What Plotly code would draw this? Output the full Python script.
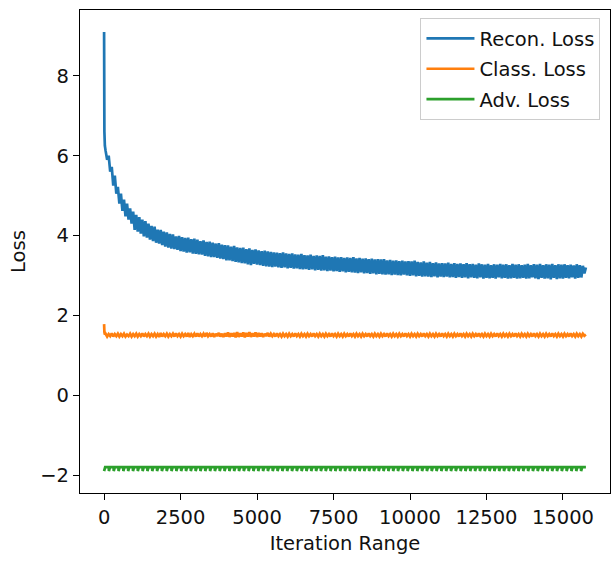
import plotly.graph_objects as go

# ---------------- data ----------------
recon_iter = [0, 10, 25] + list(range(50, 15800, 50))
recon_loss = [9.10, 6.60, 6.25,
    6.12, 5.90, 6.00, 5.60, 5.72, 5.25, 5.50, 5.05, 5.22, 4.80,
    5.05, 4.62, 4.90, 4.48, 4.80, 4.40, 4.68, 4.30, 4.60, 4.14,
    4.52, 4.10, 4.46, 4.05, 4.40, 3.98, 4.36, 3.95, 4.30, 3.90,
    4.24, 3.86, 4.22, 3.82, 4.15, 3.80, 4.14, 3.76, 4.10, 3.72,
    4.08, 3.70, 4.04, 3.67, 4.03, 3.66, 3.98, 3.64, 3.99, 3.61,
    3.96, 3.60, 3.94, 3.57, 3.95, 3.58, 3.91, 3.55, 3.92, 3.54,
    3.90, 3.53, 3.86, 3.52, 3.88, 3.49, 3.84, 3.48, 3.85, 3.46,
    3.82, 3.46, 3.80, 3.44, 3.81, 3.42, 3.77, 3.41, 3.76, 3.38,
    3.75, 3.38, 3.72, 3.36, 3.74, 3.34, 3.70, 3.33, 3.69, 3.31,
    3.70, 3.30, 3.66, 3.28, 3.68, 3.26, 3.64, 3.29, 3.65, 3.27,
    3.63, 3.26, 3.61, 3.24, 3.62, 3.23, 3.60, 3.22, 3.59, 3.21,
    3.58, 3.22, 3.57, 3.20, 3.56, 3.19, 3.58, 3.20, 3.55, 3.18,
    3.54, 3.19, 3.55, 3.17, 3.53, 3.18, 3.52, 3.16, 3.54, 3.15,
    3.51, 3.16, 3.50, 3.14, 3.52, 3.15, 3.49, 3.13, 3.50, 3.14,
    3.49, 3.12, 3.51, 3.13, 3.47, 3.11, 3.48, 3.12, 3.46, 3.10,
    3.47, 3.11, 3.45, 3.09, 3.46, 3.10, 3.44, 3.08, 3.45, 3.09,
    3.44, 3.08, 3.46, 3.07, 3.43, 3.06, 3.44, 3.08, 3.42, 3.05,
    3.43, 3.06, 3.41, 3.04, 3.42, 3.05, 3.40, 3.03, 3.41, 3.04,
    3.40, 3.03, 3.41, 3.02, 3.38, 3.03, 3.39, 3.01, 3.37, 3.02,
    3.38, 3.01, 3.36, 3.00, 3.37, 3.02, 3.35, 3.00, 3.36, 2.99,
    3.35, 3.00, 3.37, 2.98, 3.34, 2.99, 3.33, 2.97, 3.35, 2.98,
    3.32, 2.97, 3.34, 2.96, 3.31, 2.98, 3.33, 2.95, 3.30, 2.97,
    3.31, 2.96, 3.30, 2.97, 3.32, 2.95, 3.29, 2.96, 3.31, 2.94,
    3.29, 2.96, 3.30, 2.94, 3.28, 2.95, 3.31, 2.93, 3.28, 2.95,
    3.29, 2.94, 3.27, 2.93, 3.30, 2.95, 3.28, 2.92, 3.27, 2.94,
    3.29, 2.93, 3.26, 2.94, 3.28, 2.92, 3.27, 2.95, 3.29, 2.93,
    3.27, 2.94, 3.28, 2.92, 3.26, 2.93, 3.29, 2.94, 3.27, 2.92,
    3.28, 2.93, 3.26, 2.94, 3.27, 2.92, 3.29, 2.93, 3.26, 2.95,
    3.28, 2.93, 3.27, 2.91, 3.29, 2.94, 3.26, 2.92, 3.28, 2.93,
    3.27, 2.90, 3.29, 2.94, 3.26, 2.91, 3.28, 2.93, 3.27, 2.92,
    3.28, 2.94, 3.26, 2.93, 3.27, 2.95, 3.25, 2.92, 3.28, 2.94,
    3.26, 2.95, 3.24, 3.05, 3.20]

class_iter = [0, 10, 25] + list(range(50, 15800, 50))
class_loss = [1.78, 1.58, 1.52,
    1.54, 1.47, 1.53, 1.48, 1.55, 1.47, 1.53, 1.48, 1.54, 1.47,
    1.53, 1.48, 1.54, 1.47, 1.52, 1.48, 1.54, 1.47, 1.53, 1.48,
    1.54, 1.47, 1.53, 1.48, 1.55, 1.47, 1.53, 1.48, 1.54, 1.47,
    1.53, 1.48, 1.54, 1.47, 1.53, 1.46, 1.56, 1.47, 1.53, 1.48,
    1.54, 1.47, 1.53, 1.48, 1.54, 1.47, 1.55, 1.48, 1.53, 1.47,
    1.54, 1.48, 1.53, 1.47, 1.56, 1.46, 1.53, 1.48, 1.54, 1.47,
    1.55, 1.47, 1.53, 1.48, 1.54, 1.47, 1.56, 1.48, 1.53, 1.47,
    1.55, 1.46, 1.54, 1.48, 1.56, 1.47, 1.54, 1.46, 1.55, 1.47,
    1.57, 1.46, 1.55, 1.47, 1.56, 1.45, 1.58, 1.46, 1.55, 1.47,
    1.57, 1.45, 1.56, 1.47, 1.58, 1.46, 1.55, 1.47, 1.57, 1.46,
    1.56, 1.47, 1.55, 1.46, 1.54, 1.48, 1.56, 1.47, 1.54, 1.48,
    1.53, 1.47, 1.55, 1.48, 1.53, 1.47, 1.54, 1.48, 1.53, 1.47,
    1.54, 1.48, 1.53, 1.47, 1.55, 1.48, 1.53, 1.47, 1.54, 1.48,
    1.53, 1.47, 1.54, 1.48, 1.53, 1.47, 1.55, 1.48, 1.53, 1.47,
    1.54, 1.48, 1.53, 1.47, 1.54, 1.48, 1.53, 1.47, 1.55, 1.48,
    1.53, 1.47, 1.54, 1.48, 1.53, 1.47, 1.54, 1.48, 1.53, 1.47,
    1.55, 1.48, 1.53, 1.47, 1.54, 1.48, 1.53, 1.47, 1.54, 1.48,
    1.53, 1.47, 1.55, 1.48, 1.53, 1.47, 1.54, 1.48, 1.53, 1.47,
    1.54, 1.48, 1.53, 1.47, 1.55, 1.48, 1.53, 1.47, 1.54, 1.48,
    1.53, 1.47, 1.54, 1.48, 1.53, 1.47, 1.55, 1.48, 1.53, 1.47,
    1.54, 1.48, 1.53, 1.47, 1.54, 1.48, 1.53, 1.47, 1.55, 1.48,
    1.53, 1.47, 1.54, 1.48, 1.53, 1.47, 1.54, 1.48, 1.53, 1.47,
    1.55, 1.48, 1.53, 1.47, 1.54, 1.48, 1.53, 1.47, 1.54, 1.48,
    1.53, 1.47, 1.55, 1.48, 1.53, 1.47, 1.54, 1.48, 1.53, 1.47,
    1.54, 1.48, 1.53, 1.47, 1.55, 1.48, 1.53, 1.47, 1.54, 1.48,
    1.53, 1.47, 1.54, 1.48, 1.53, 1.47, 1.55, 1.48, 1.53, 1.47,
    1.54, 1.48, 1.53, 1.47, 1.54, 1.48, 1.53, 1.47, 1.55, 1.48,
    1.53, 1.47, 1.54, 1.48, 1.53, 1.47, 1.54, 1.48, 1.53, 1.47,
    1.55, 1.48, 1.53, 1.47, 1.54, 1.48, 1.53, 1.47, 1.54, 1.48,
    1.53, 1.47, 1.55, 1.48, 1.53, 1.47, 1.54, 1.48, 1.53, 1.47,
    1.54, 1.48, 1.53, 1.47, 1.55, 1.48, 1.53, 1.47, 1.54, 1.48,
    1.53, 1.47, 1.54, 1.49, 1.52]

# Adversarial loss: flat level with a short dip at the start of each epoch
adv_epochs = 100
adv_iters_per_epoch = 157.5
adv_level = -1.80
adv_dip = -1.90

adv_iter, adv_loss = [], []
for e in range(adv_epochs):
    s = e * adv_iters_per_epoch
    adv_iter += [s, s + 35, s + adv_iters_per_epoch - 5]
    adv_loss += [adv_dip, adv_level, adv_level]
adv_iter.append(adv_epochs * adv_iters_per_epoch)
adv_loss.append(adv_level)

series_names = ["Recon. Loss", "Class. Loss", "Adv. Loss"]
x_ticks = [0, 2500, 5000, 7500, 10000, 12500, 15000]
y_ticks = [-2, 0, 2, 4, 6, 8]

# ---------------- figure ----------------
colors = ["#1f77b4", "#ff7f0e", "#2ca02c"]
fig = go.Figure()
for name, xs, ys, c in zip(series_names,
                           [recon_iter, class_iter, adv_iter],
                           [recon_loss, class_loss, adv_loss], colors):
    fig.add_trace(go.Scatter(x=xs, y=ys, mode="lines", name=name,
                             legendgroup=name,
                             line=dict(color=c, width=2.7, simplify=False)))

font = dict(family="DejaVu Sans", size=19.5, color="#111111")
axis_common = dict(showline=True, linecolor="black", linewidth=1.4, mirror=True,
                   ticks="outside", ticklen=6, tickwidth=1.4, tickcolor="black",
                   showgrid=False, zeroline=False, tickfont=font)

fig.update_layout(
    width=613, height=562,
    margin=dict(l=80, r=3, t=10, b=69),
    paper_bgcolor="white", plot_bgcolor="white",
    font=font,
    xaxis=dict(range=[-787.5, 16537.5], tickvals=x_ticks,
               ticktext=[str(v) for v in x_ticks],
               title=dict(text="Iteration Range", font=font, standoff=8),
               **axis_common),
    yaxis=dict(range=[-2.45, 9.65], tickvals=y_ticks,
               title=dict(text="Loss", font=font, standoff=9),
               **axis_common),
    legend=dict(x=0.982, y=0.983, xanchor="right", yanchor="top",
                bgcolor="rgba(255,255,255,0.8)", bordercolor="#cccccc",
                borderwidth=1, font=font, traceorder="grouped",
                tracegroupgap=2, itemwidth=48),
    showlegend=True,
)

fig.write_html("out.html")
